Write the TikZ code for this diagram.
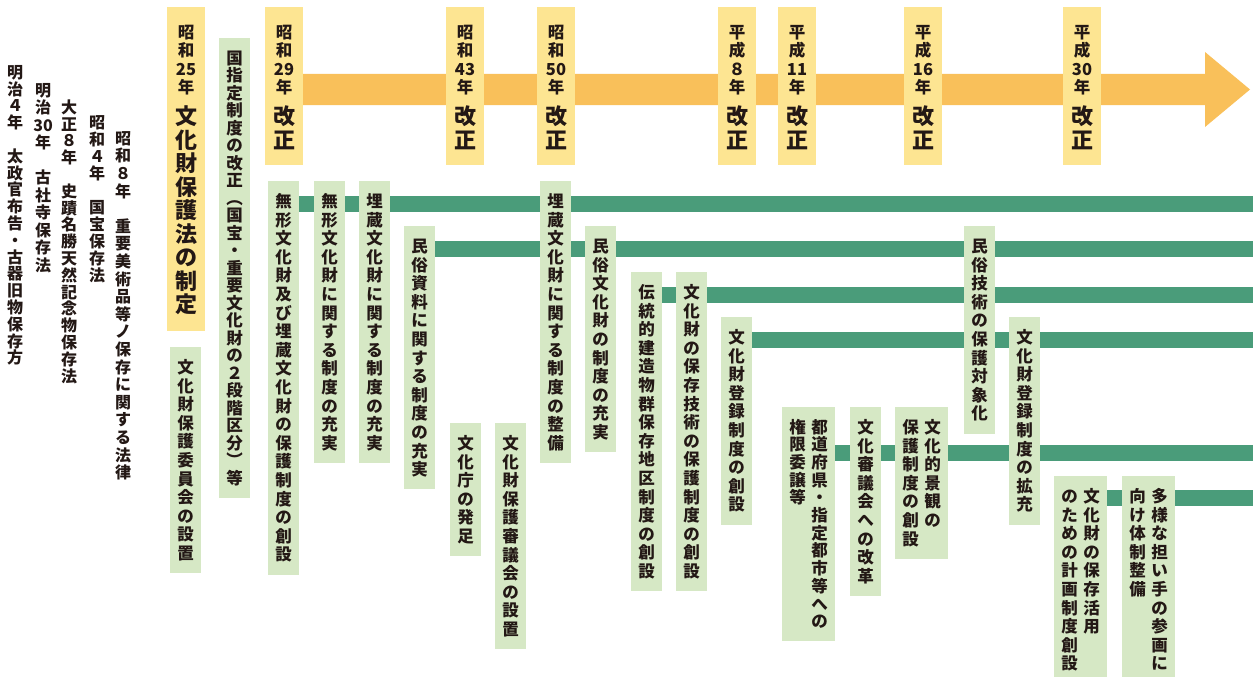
\documentclass[tikz,border=0pt]{standalone}
\usepackage{fontspec}
\setmainfont{Noto Sans CJK JP}
\usetikzlibrary{backgrounds}
\definecolor{ybox}{RGB}{253,229,146}
\definecolor{oarrow}{RGB}{249,192,90}
\definecolor{gbar}{RGB}{74,156,122}
\definecolor{gbox}{RGB}{214,232,197}
\definecolor{ink}{RGB}{35,24,21}
\makeatletter
\newdimen\vpitch \vpitch=18.6pt
\newdimen\vcellw \vcellw=20pt
\newif\ifvc@half
\def\vc@hmark{\HC}
\newcommand\vcell[2]{\hbox to\vcellw{\vrule height#1 depth#1 width0pt\hss\smash{\lower.38em\hbox{#2}}\hss}}
\newcommand\vcol[1]{\vtop{\offinterlineskip\global\vc@halffalse
  \@tfor\vc@t:=#1\do{%
    \ifx\vc@t\vc@hmark\global\vc@halftrue\else
      \ifvc@half\vcell{.25\vpitch}{\vc@t}\global\vc@halffalse
      \else\vcell{.5\vpitch}{\vc@t}\fi
    \fi}}}
\makeatother
\newcommand\vcolp[2]{{\vpitch=#1\relax\vcol{#2}}}
\newcommand\ytext[2]{\vtop{\offinterlineskip
  \hbox{\fontsize{16.5}{18}\selectfont\vpitch=18.4pt\vcol{#1}}%
  \kern8pt
  \hbox{\fontsize{22}{24}\selectfont\vpitch=23.5pt\vcol{#2}}}}
\newcommand\twocol[2]{\hbox{\vcol{#1}\kern2pt\vcol{#2}}}
\begin{document}
\begin{tikzpicture}[x=1pt,y=-1pt,
  yb/.style={fill=ybox, minimum width=38pt, minimum height=158pt, inner sep=0pt, anchor=north},
  ybl/.style={yb, minimum height=324pt},
  yt/.style={anchor=north, inner sep=0pt, text=ink, font=\bfseries},
  gb/.style={fill=gbox, anchor=north, inner xsep=5.5pt, inner ysep=10.7pt, text=ink,
    font=\fontsize{16.5}{18}\selectfont\bfseries},
  lt/.style={anchor=north, inner sep=0pt, text=ink, font=\fontsize{16}{18}\selectfont\bfseries},
  gline/.style={draw=gbar, line width=16pt}]
\useasboundingbox (0,0) rectangle (1253,677);

% left plain columns
\node[lt] (c1) at (15,63.6) {\vcolp{16.8pt}{明治４年{}太政官布告・古器旧物保存方}};
\node[lt] (c2) at (43,81.2) {\vcolp{17.5pt}{明治{30}年{}古社寺保存法}};
\node[lt] (c3) at (69,98.6) {\vcolp{16.8pt}{大正８年{}史蹟名勝天然記念物保存法}};
\node[lt] (c4) at (97,113.5) {\vcolp{17pt}{昭和４年{}国宝保存法}};
\node[lt] (c5) at (123,129.2) {\vcolp{17.6pt}{昭和８年{}重要美術品等ノ保存に関する法律}};

% year boxes
\node[ybl] (y1) at (186,7) {};
\node[yt] (y1t) at (186,22.8) {\ytext{昭和{25}年}{文化財保護法の制定}};
\node[yb] (y2) at (284,7) {};
\node[yt] (y2t) at (284,22.8) {\ytext{昭和{29}年}{改正}};
\node[yb] (y3) at (465,7) {};
\node[yt] (y3t) at (465,22.8) {\ytext{昭和{43}年}{改正}};
\node[yb] (y4) at (556,7) {};
\node[yt] (y4t) at (556,22.8) {\ytext{昭和{50}年}{改正}};
\node[yb] (y5) at (737,7) {};
\node[yt] (y5t) at (737,22.8) {\ytext{平成８年}{改正}};
\node[yb] (y6) at (797,7) {};
\node[yt] (y6t) at (797,22.8) {\ytext{平成{11}年}{改正}};
\node[yb] (y7) at (923,7) {};
\node[yt] (y7t) at (923,22.8) {\ytext{平成{16}年}{改正}};
\node[yb] (y8) at (1082,7) {};
\node[yt] (y8t) at (1082,22.8) {\ytext{平成{30}年}{改正}};

% green boxes
\node[gb] (g1) at (185.5,347) {\vcol{文化財保護委員会の設置}};
\node[gb, inner ysep=11.2pt] (g2) at (234.5,38) {\vcolp{17.5pt}{国指定制度の改正︵国宝・重要文化財の２段階区分︶等}};
\node[gb] (g3) at (283.5,181) {\vcol{無形文化財及び埋蔵文化財の保護制度の創設}};
\node[gb] (g4) at (329.5,181) {\vcol{無形文化財に関する制度の充実}};
\node[gb] (g5) at (374.5,181) {\vcol{埋蔵文化財に関する制度の充実}};
\node[gb] (g6) at (419.5,226) {\vcol{民俗資料に関する制度の充実}};
\node[gb] (g7) at (465.5,423) {\vcol{文化庁の発足}};
\node[gb] (g8) at (510.5,423) {\vcol{文化財保護審議会の設置}};
\node[gb] (g9) at (555.5,181) {\vcol{埋蔵文化財に関する制度の整備}};
\node[gb] (g10) at (600.5,226) {\vcol{民俗文化財の制度の充実}};
\node[gb] (g11) at (646.5,272) {\vcol{伝統的建造物群保存地区制度の創設}};
\node[gb] (g12) at (691.5,272) {\vcol{文化財の保存技術の保護制度の創設}};
\node[gb] (g13) at (736.5,317) {\vcol{文化財登録制度の創設}};
\node[gb] (g14) at (808.5,407) {\hbox{\vcolp{17.7pt}{権限委譲等}\kern2pt\vcolp{17.7pt}{都道府県・指定都市等への}}};
\node[gb] (g15) at (865.5,407) {\vcol{文化審議会への改革}};
\node[gb] (g16) at (921.5,407) {\twocol{保護制度の創設}{文化的景観の}};
\node[gb] (g17) at (979.5,226) {\vcol{民俗技術の保護対象化}};
\node[gb] (g18) at (1024.5,317) {\vcol{文化財登録制度の拡充}};
\node[gb] (g19) at (1080.5,476) {\twocol{のための計画制度創設}{文化財の保存活用}};
\node[gb] (g20) at (1148.5,476) {\twocol{向け体制整備}{多様な担い手の参画に}};

% row ends
\coordinate (r1) at (1253,204);
\coordinate (r2) at (1253,249);
\coordinate (r3) at (1253,295);
\coordinate (r4) at (1253,340);
\coordinate (r5) at (1253,453);
\coordinate (r6) at (1253,498);
\coordinate (ab) at (1205,89.5);
\coordinate (at) at (1250,89.5);

\begin{scope}[on background layer]
  \fill[oarrow] (y2.east |- 0,74) -- (ab |- 0,74) -- (ab |- 0,52) -- (at)
     -- (ab |- 0,127) -- (ab |- 0,105) -- (y2.east |- 0,105) -- cycle;
  \draw[gline] (g3.east |- r1) -- (r1);
  \draw[gline] (g6.east |- r2) -- (r2);
  \draw[gline] (g11.east |- r3) -- (r3);
  \draw[gline] (g13.east |- r4) -- (r4);
  \draw[gline] (g14.east |- r5) -- (r5);
  \draw[gline] (g19.east |- r6) -- (r6);
\end{scope}
\end{tikzpicture}
\end{document}
